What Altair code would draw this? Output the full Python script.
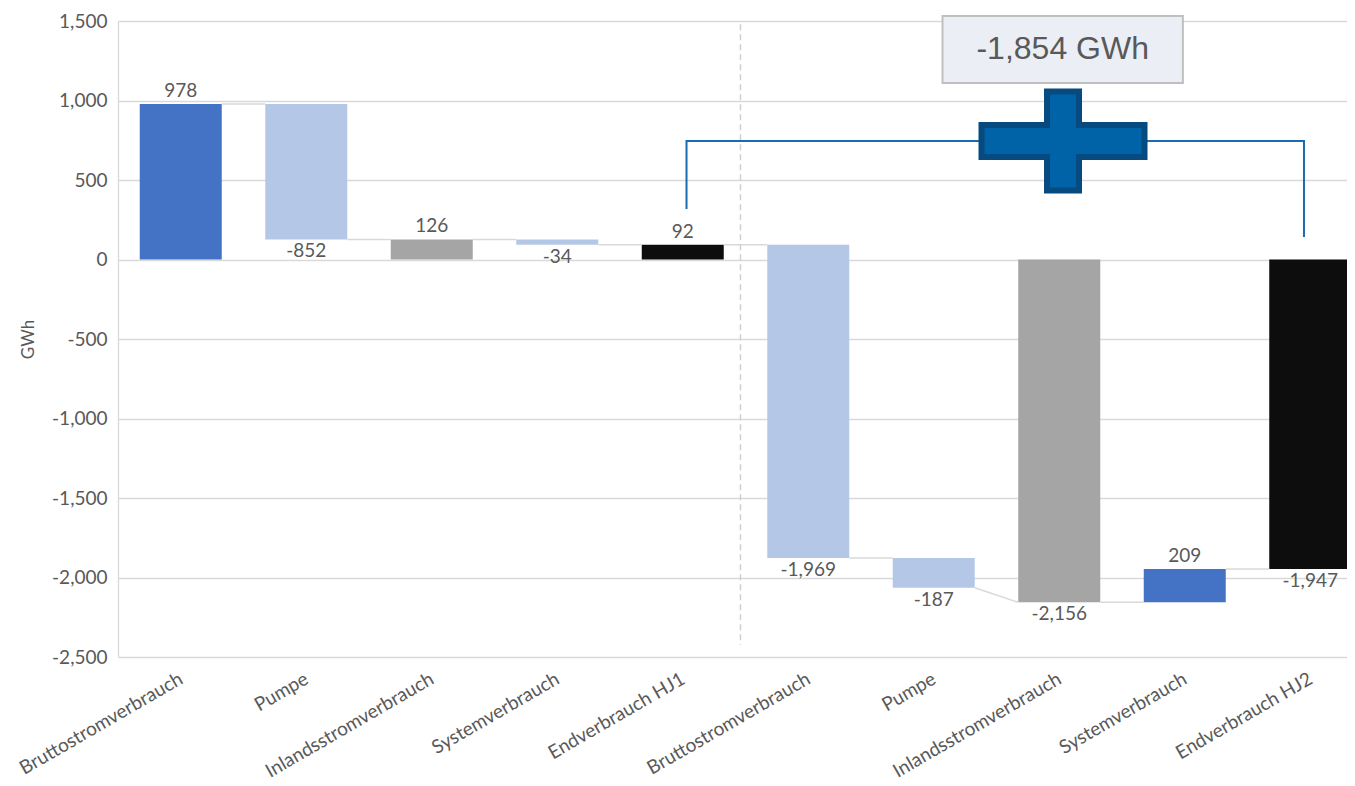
import json
import altair as alt
import pandas as pd

# ---------------- data ----------------
categories = ["Bruttostromverbrauch", "Pumpe", "Inlandsstromverbrauch", "Systemverbrauch", "Endverbrauch HJ1",
              "Bruttostromverbrauch", "Pumpe", "Inlandsstromverbrauch", "Systemverbrauch", "Endverbrauch HJ2"]
values = [978, -852, 126, -34, 92, -1969, -187, -2156, 209, -1947]
kinds = ["Zunahme", "Abnahme", "Summe", "Abnahme", "Endverbrauch",
         "Abnahme", "Abnahme", "Summe", "Zunahme", "Endverbrauch"]
y_ticks = [-2500, -2000, -1500, -1000, -500, 0, 500, 1000, 1500]
delta_text = ["-1,854 GWh"]

# annotation anchors (data units)
bracket_x = [4.03, 4.03, 8.95, 8.95]
bracket_y = [318, 745, 745, 142]
divider_x = [4.46]
divider_y = [1480, -2425]
plus_x = [7.03]
plus_y = [745]
box_x = [6.07, 7.985]
box_y = [1531, 1110]
box_text_y = [1321]

# ---------------- layout ----------------
STEP_PX = 125.5
W, H = 1229, 636
XMIN = -0.5
XMAX = XMIN + W / STEP_PX
BAR = 82
half = (BAR / 2) / STEP_PX

FONT = "Lato"
TXT = "#595959"
GRID = "#D9D9D9"

rows = []
cum = 0
for i, (c, v, k) in enumerate(zip(categories, values, kinds)):
    total = k in ("Summe", "Endverbrauch")
    if total:
        start, end = 0, v
    else:
        start, end = cum, cum + v
    cum = end
    rows.append(dict(idx=i, cat=c, value=v, kind=k, start=start, end=end,
                     level=(v if total else start), label=f"{v:,}", pos=v > 0))
df = pd.DataFrame(rows)

conn = pd.DataFrame([
    dict(cx=rows[i]["idx"] + half, cx2=rows[i + 1]["idx"] - half,
         cy=rows[i]["end"], cy2=rows[i + 1]["level"])
    for i in range(len(rows) - 1)
])

xs = alt.Scale(domain=[XMIN, XMAX], nice=False, zero=False, padding=0)
ys = alt.Scale(domain=[y_ticks[0], y_ticks[-1]], nice=False, zero=False, padding=0)

label_expr = json.dumps(categories) + "[datum.value]"

x_axis = alt.Axis(values=list(range(len(categories))), labelExpr=label_expr,
                  labelAngle=-30, labelAlign="right", labelBaseline="middle",
                  labelPadding=20, ticks=False, domain=False, grid=False, title=None,
                  labelFontSize=19, labelFont=FONT, labelColor=TXT, labelLimit=0,
                  labelFlush=False, labelOverlap=False, labelBound=False)
y_axis = alt.Axis(values=y_ticks, labelExpr="replace(format(datum.value, ','), '\u2212', '-')",
                  ticks=False, labelPadding=11, grid=True, gridColor=GRID, gridWidth=1.3,
                  domain=True, domainColor=GRID, domainWidth=1.3,
                  labelFontSize=19, labelFont=FONT, labelColor=TXT,
                  title="GWh", titleFont=FONT, titleFontSize=17, titleFontWeight="normal",
                  titleColor=TXT, titleAngle=-90, titleX=-90, titleY=H / 2,
                  titleAlign="center", titleBaseline="middle", labelFlush=False)


def X(f):
    return alt.X(f, scale=xs, axis=x_axis)


def Y(f):
    return alt.Y(f, scale=ys, axis=y_axis)


base = alt.Chart(df)

bars = base.mark_bar(size=BAR).encode(
    x=X("idx:Q"),
    y=Y("start:Q"),
    y2="end:Q",
    color=alt.Color("kind:N", legend=None,
                    scale=alt.Scale(domain=["Zunahme", "Abnahme", "Summe", "Endverbrauch"],
                                    range=["#4472C4", "#B4C7E7", "#A5A5A5", "#0D0D0D"])),
)

connectors = alt.Chart(conn).mark_rule(color=GRID, strokeWidth=1.5).encode(
    x=X("cx:Q"), x2="cx2:Q", y=Y("cy:Q"), y2="cy2:Q",
)

lab_pos = base.transform_filter("datum.pos").mark_text(
    baseline="bottom", dy=-3, fontSize=19, font=FONT, color=TXT
).encode(x=X("idx:Q"), y=Y("end:Q"), text="label:N")

lab_neg = base.transform_filter("!datum.pos").mark_text(
    baseline="top", dy=3, fontSize=19, font=FONT, color=TXT
).encode(x=X("idx:Q"), y=Y("end:Q"), text="label:N")

divider = alt.Chart(pd.DataFrame({"x": divider_x, "y": [divider_y[0]], "y2": [divider_y[1]]})).mark_rule(
    color="#CFCFCF", strokeDash=[6, 4], strokeWidth=1.5
).encode(x=X("x:Q"), y=Y("y:Q"), y2="y2:Q")

bracket = alt.Chart(pd.DataFrame({"x": bracket_x, "y": bracket_y, "o": list(range(len(bracket_x)))})).mark_line(
    color="#1A6BB0", strokeWidth=2
).encode(x=X("x:Q"), y=Y("y:Q"), order="o:Q")

# plus sign shape: outer 169 x 105, arm 38
pw = 163.0
a = 16 / (pw / 2)
v = 49.5 / (pw / 2)
plus_path = (f"M-1,{-a:.4f}L{-a:.4f},{-a:.4f}L{-a:.4f},{-v:.4f}L{a:.4f},{-v:.4f}L{a:.4f},{-a:.4f}"
             f"L1,{-a:.4f}L1,{a:.4f}L{a:.4f},{a:.4f}L{a:.4f},{v:.4f}L{-a:.4f},{v:.4f}L{-a:.4f},{a:.4f}L-1,{a:.4f}Z")
plus = alt.Chart(pd.DataFrame({"x": plus_x, "y": plus_y})).mark_point(
    shape=plus_path, size=pw * pw, filled=True, fill="#0063A8", stroke="#064A80",
    strokeWidth=6, opacity=1, fillOpacity=1, strokeOpacity=1
).encode(x=X("x:Q"), y=Y("y:Q"))

box = alt.Chart(pd.DataFrame({"x": [box_x[0]], "x2": [box_x[1]], "y": [box_y[0]], "y2": [box_y[1]]})).mark_rect(
    fill="#EBEFF5", stroke="#BFBFBF", strokeWidth=2
).encode(x=X("x:Q"), x2="x2:Q", y=Y("y:Q"), y2="y2:Q")

box_text = alt.Chart(pd.DataFrame({"x": [sum(box_x) / 2], "y": box_text_y, "t": delta_text})).mark_text(
    font="Liberation Sans Narrow, Liberation Sans, Arial", fontSize=32, color=TXT,
    align="center", baseline="middle"
).encode(x=X("x:Q"), y=Y("y:Q"), text="t:N")

chart = alt.layer(bars, connectors, lab_pos, lab_neg, divider, bracket, plus, box, box_text).properties(
    width=W, height=H,
    background="white",
    autosize=alt.AutoSizeParams(type="none"),
    padding={"left": 110, "top": 13, "right": 0, "bottom": 127},
).configure_view(stroke=None)

chart.save("out.html", embed_options={"renderer": "svg", "actions": False})
